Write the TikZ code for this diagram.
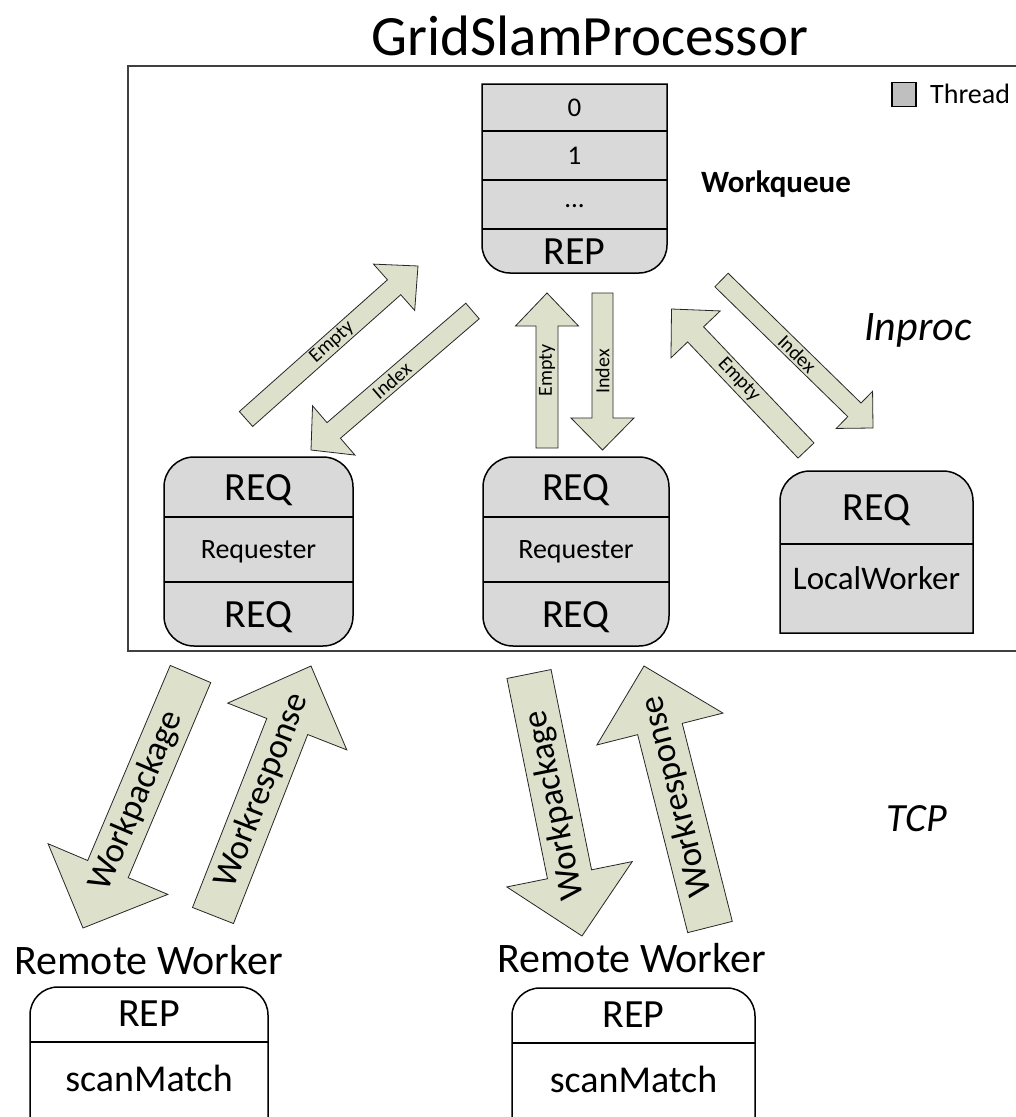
\documentclass[tikz,border=0pt]{standalone}
\usepackage{fontspec}
\setmainfont{Carlito}
\usetikzlibrary{calc}
\definecolor{boxgray}{HTML}{D9D9D9}
\definecolor{legendgray}{HTML}{BFBFBF}
\definecolor{arrowfill}{HTML}{DDE1CC}
\definecolor{framegray}{HTML}{404040}
\tikzset{
  boxline/.style={draw=black, line width=1.5pt, fill=boxgray},
  whitebox/.style={draw=black, line width=1.5pt, fill=white},
  sepline/.style={draw=black, line width=1.5pt},
  arrowbody/.style={draw=black!85, line width=0.8pt, fill=arrowfill, line join=miter},
  lbl/.style={inner sep=0pt, text=black},
}
\newcommand{\fs}[1]{\fontsize{#1}{#1}\selectfont}
\newcommand{\blockarrow}[9]{%
  \coordinate (#1-tail) at #2;
  \coordinate (#1-tip) at #3;
  \coordinate (#1-hb) at ($(#1-tip)!#6pt!(#1-tail)$);
  \filldraw[arrowbody] ($(#1-tail)!#4pt!90:(#1-tip)$) -- ($(#1-hb)!#4pt!90:(#1-tip)$) -- ($(#1-hb)!#5pt!90:(#1-tip)$) -- (#1-tip) -- ($(#1-hb)!#5pt!-90:(#1-tip)$) -- ($(#1-hb)!#4pt!-90:(#1-tip)$) -- ($(#1-tail)!#4pt!-90:(#1-tip)$) -- cycle;
  \node[lbl, rotate=#7, font=\fs{#8}] (#1) at ($(#1-tail)!0.5!(#1-tip)$) {#9};
}
\begin{document}
\begin{tikzpicture}[x=1pt,y=-1pt]
\useasboundingbox (0,0) rectangle (1016,1117);
\fill[white] (0,0) rectangle (1016,1117);

% title and frame
\node[lbl, anchor=base, font=\fs{57}] (title) at (590,55) {GridSlamProcessor};
\draw[framegray, line width=2pt] (128,66) rectangle (1030,651);

% legend
\node[draw=black, line width=1.3pt, fill=legendgray, minimum width=24pt, minimum height=24pt, inner sep=0pt] (legend) at (904,94.5) {};
\node[lbl, anchor=west, font=\fs{28}] (thread) at (930,94) {Thread};

% workqueue
\filldraw[boxline] (482,84) -- (667,84) -- (667,245) .. controls (667,260.5) and (654.5,273) .. (639,273) -- (510,273) .. controls (494.5,273) and (482,260.5) .. (482,245) -- cycle;
\draw[sepline] (482,131) -- (667,131);
\draw[sepline] (482,180) -- (667,180);
\draw[sepline] (482,229) -- (667,229);
\node[lbl, font=\fs{27}] (wq0) at (574.5,107.5) {0};
\node[lbl, font=\fs{27}] (wq1) at (574.5,155.5) {1};
\node[lbl, font=\fs{27}] (wqdots) at (574.5,206) {...};
\node[lbl, anchor=base, font=\fs{40}] (wqrep) at (574.5,264) {REP};
\node[lbl, anchor=base, font=\bfseries\fs{31}] (wqlabel) at (776,192) {Workqueue};

% mode labels
\node[lbl, anchor=base, font=\itshape\fs{42}] (inproc) at (918,340) {Inproc};
\node[lbl, anchor=base, font=\itshape\fs{40}] (tcp) at (917,831) {TCP};

% requester 1
\node[boxline, rounded corners=30pt, minimum width=189pt, minimum height=189pt, inner sep=0pt, outer sep=0pt] (req1) at (258.5,551.5) {};
\draw[sepline] (164,517) -- (353,517);
\draw[sepline] (164,582) -- (353,582);
\node[lbl, anchor=base, font=\fs{40}] (req1a) at (258.5,500) {REQ};
\node[lbl, anchor=base, font=\fs{28}] (req1b) at (258.5,558.5) {Requester};
\node[lbl, anchor=base, font=\fs{40}] (req1c) at (258.5,627) {REQ};

% requester 2
\node[boxline, rounded corners=30pt, minimum width=186pt, minimum height=189pt, inner sep=0pt, outer sep=0pt] (req2) at (576,551.5) {};
\draw[sepline] (483,517) -- (669,517);
\draw[sepline] (483,582) -- (669,582);
\node[lbl, anchor=base, font=\fs{40}] (req2a) at (576,500) {REQ};
\node[lbl, anchor=base, font=\fs{28}] (req2b) at (576,558.5) {Requester};
\node[lbl, anchor=base, font=\fs{40}] (req2c) at (576,627) {REQ};

% local worker
\filldraw[boxline] (780,633) -- (780,501) .. controls (780,484.4) and (793.4,471) .. (810,471) -- (943,471) .. controls (959.6,471) and (973,484.4) .. (973,501) -- (973,633) -- cycle;
\draw[sepline] (780,544) -- (973,544);
\node[lbl, anchor=base, font=\fs{40}] (lwreq) at (876.5,520) {REQ};
\node[lbl, anchor=base, font=\fs{33}] (lw) at (876.5,589) {LocalWorker};

% inproc arrows
\blockarrow{a1}{(246,419)}{(418,266)}{10}{31}{32}{41.7}{20}{Empty}
\blockarrow{a2}{(472.5,311)}{(311,450)}{10.3}{32.5}{30}{40.7}{20}{Index}
\blockarrow{a3}{(547,448)}{(547,293)}{11}{31.5}{33}{90}{20}{Empty}
\blockarrow{a4}{(602.5,293)}{(602.5,450)}{10.5}{31.5}{32}{90}{20}{Index}
\blockarrow{a5}{(721.5,280)}{(873,428)}{9.5}{26}{26}{-44.3}{20}{Index}
\blockarrow{a6}{(806,450.5)}{(671.5,309)}{11}{34}{35}{-46.5}{20}{Empty}

% tcp arrows
\blockarrow{b1}{(190.5,674)}{(83,928)}{22}{65}{64}{67}{35}{Workpackage}
\blockarrow{b2}{(213,915.5)}{(311,666)}{22}{64}{65}{68.6}{35}{Workresponse}
\blockarrow{b3}{(529,674)}{(582,936)}{22.5}{64}{63}{101.4}{35}{Workpackage}
\blockarrow{b4}{(710,927)}{(644,666)}{23}{65}{65}{104.2}{35}{Workresponse}

% remote workers
\node[lbl, font=\fs{42}] (rw1) at (148.5,960) {Remote Worker};
\filldraw[whitebox] (30,1130) -- (30,1015) .. controls (30,999.5) and (42.5,987) .. (58,987) -- (240,987) .. controls (255.5,987) and (268,999.5) .. (268,1015) -- (268,1130);
\draw[sepline] (30,1042) -- (268,1042);
\node[lbl, font=\fs{40}] (rw1rep) at (149,1014) {REP};
\node[lbl, font=\fs{38}] (rw1sm) at (149,1078) {scanMatch};

\node[lbl, font=\fs{42}] (rw2) at (631.5,958) {Remote Worker};
\filldraw[whitebox] (512,1130) -- (512,1016) .. controls (512,1000.5) and (524.5,988) .. (540,988) -- (727,988) .. controls (742.5,988) and (755,1000.5) .. (755,1016) -- (755,1130);
\draw[sepline] (512,1043) -- (755,1043);
\node[lbl, font=\fs{40}] (rw2rep) at (633.5,1015) {REP};
\node[lbl, font=\fs{38}] (rw2sm) at (633.5,1079) {scanMatch};
\end{tikzpicture}
\end{document}
